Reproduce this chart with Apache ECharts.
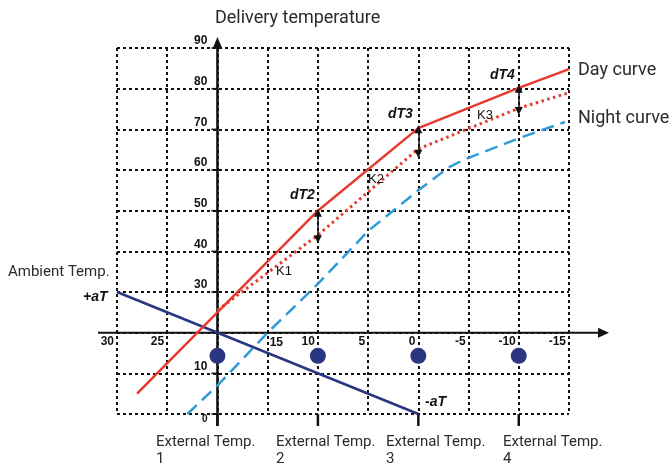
<!DOCTYPE html>
<html><head><meta charset="utf-8">
<script src="https://cdn.jsdelivr.net/npm/echarts@6/dist/echarts.min.js"></script>
<style>html,body{margin:0;padding:0;background:#fff}#c{width:670px;height:466px}</style>
</head><body><div id="c"></div>
<script>
// ---- data ----
const xTicks = [30, 25, 20, 15, 10, 5, 0, -5, -10, -15];
const yTicks = [90, 80, 70, 60, 50, 40, 30, 10, 0];
const dayCurve = [[28, 5], [10, 50], [0, 70.3], [-10, 80.2], [-15, 84.8]];
const kCurve = [[20, 25.5], [10, 44], [0, 65.2], [-10, 75.2], [-15, 79]];
const nightCurve = [[23, 0], [20, 7], [15, 20], [10, 32], [5, 45], [0, 55], [-3, 60.6], [-4.5, 62.5], [-10, 67.8], [-14.6, 71.8]];
const ambientLine = [[30, 30], [0, 0]];
const extTempX = [20, 10, 0, -10];
const extTempDotY = 14.3;
const dTArrows = [[10, 49.5, 43], [0, 70, 64], [-10, 80, 74.5]];
const axisCross = [20, 20];
const extLabels = ['External Temp.\n1', 'External Temp.\n2', 'External Temp.\n3', 'External Temp.\n4'];

const RED = '#e63a2e', BLUE = '#2f9bd7', NAVY = '#2a3680', INK = '#111';
const chart = echarts.init(document.getElementById('c'));
const split = { show: true, lineStyle: { color: INK, width: 2, type: [3, 3] } };
chart.setOption({
  animation: false,
  grid: { left: 117, right: 101, top: 48, bottom: 52 },
  xAxis: { type: 'value', min: -15, max: 30, interval: 5, inverse: true,
    axisLine: { show: false }, axisTick: { show: false }, axisLabel: { show: false }, splitLine: split },
  yAxis: { type: 'value', min: 0, max: 90, interval: 10,
    axisLine: { show: false }, axisTick: { show: false }, axisLabel: { show: false }, splitLine: split },
  series: [
    { name: 'Ambient Temp.', type: 'line', data: ambientLine, symbol: 'none', z: 3,
      lineStyle: { color: NAVY, width: 2.5 } },
    { name: 'Night curve', type: 'line', data: nightCurve, symbol: 'none', z: 3,
      lineStyle: { color: BLUE, width: 2.5, type: [13, 7] } },
    { name: 'K curve', type: 'line', data: kCurve, symbol: 'none', z: 3,
      lineStyle: { color: RED, width: 3, type: [2.5, 3.5] },
      markLine: { silent: true, symbol: ['triangle', 'triangle'], symbolSize: [8, 8],
        label: { show: false }, lineStyle: { color: INK, width: 1.5, type: 'solid' },
        data: dTArrows.map(a => [{ coord: [a[0], a[1]] }, { coord: [a[0], a[2]] }]) } },
    { name: 'Day curve', type: 'line', data: dayCurve, symbol: 'none', z: 4,
      lineStyle: { color: RED, width: 2.5 } },
    { name: 'External Temp.', type: 'scatter', data: extTempX.map(x => [x, extTempDotY]),
      symbol: 'circle', symbolSize: 16, itemStyle: { color: NAVY, opacity: 1 }, z: 6 }
  ]
});

// ---- decorations positioned through the chart's own scales ----
(function () {
const P = v => chart.convertToPixel({ gridIndex: 0 }, v);
const o = P(axisCross);
const xl = P([xTicks[0], axisCross[1]])[0];
const xr = P([xTicks[xTicks.length - 1], axisCross[1]])[0];
const yt = P([axisCross[0], yTicks[0]])[1];
const yb = P([axisCross[0], 0])[1];
const g = [];
const line = (x1, y1, x2, y2, w) => g.push({ type: 'line', z: 1, shape: { x1, y1, x2, y2 }, style: { stroke: INK, lineWidth: w } });
const text = (t, x, y, font, align, fill, lh) => g.push({ type: 'text', z: 10,
  style: { text: t, x, y, font, fill: fill || INK, textAlign: align || 'left', textVerticalAlign: 'middle', lineHeight: lh } });

// axes
line(xl - 19, o[1], xr + 30, o[1], 2);
g.push({ type: 'polygon', z: 1, shape: { points: [[xr + 40, o[1]], [xr + 29, o[1] - 5], [xr + 29, o[1] + 5]] }, style: { fill: INK } });
line(o[0], yb + 12, o[0], yt, 2.5);
g.push({ type: 'polygon', z: 1, shape: { points: [[o[0], yt - 11], [o[0] - 5, yt + 1], [o[0] + 5, yt + 1]] }, style: { fill: INK } });
// external temp ticks
extTempX.forEach(x => { const p = P([x, 0]); line(p[0], p[1], p[0], p[1] + 12, 2.5); });
// y ticks + labels
const TF = 'bold 12px "Liberation Sans", Arial';
yTicks.forEach(v => {
  const p = P([axisCross[0], v]);
  line(o[0] - 6, p[1], o[0], p[1], 1.5);
  text(String(v), o[0] - 10, v === 0 ? p[1] + 5 : p[1] - 7, v === 0 ? 'bold 10px "Liberation Sans", Arial' : TF, 'right');
});
// x tick labels
xTicks.forEach(v => {
  if (v === axisCross[0]) return;
  const p = P([v, axisCross[1]]);
  if (v === 15) text(String(v), p[0] + 2, o[1] + 10, TF, 'left');
  else text(String(v), p[0] - 3, o[1] + 9, TF, 'right');
});

// texts
const F = '15px Roboto, "Noto Sans", sans-serif', FL = '18px Roboto, "Noto Sans", sans-serif', TC = '#2b2b2b';
text('Delivery temperature', 215, 18, FL, 'left', TC);
text('Day curve', 578, 70, FL, 'left', TC);
text('Night curve', 578, 118, FL, 'left', TC);
text('Ambient Temp.', 8, 272, F, 'left', TC);
const BI = 'italic bold 14px "Liberation Sans", Arial';
text('+aT', 83, 297, BI);
text('-aT', 425, 402, BI);
text('dT2', 290, 195, BI);
text('dT3', 388, 114, BI);
text('dT4', 490, 75, BI);
const K = '13px "Liberation Sans", Arial';
text('K1', 276, 271, K);
text('K2', 368, 179, K);
text('K3', 477, 115, K);
[156, 276, 386, 503].forEach((x, i) => text(extLabels[i], x, 451, F, 'left', TC, 17));

chart.setOption({ graphic: g });
})();
</script>
</body></html>
